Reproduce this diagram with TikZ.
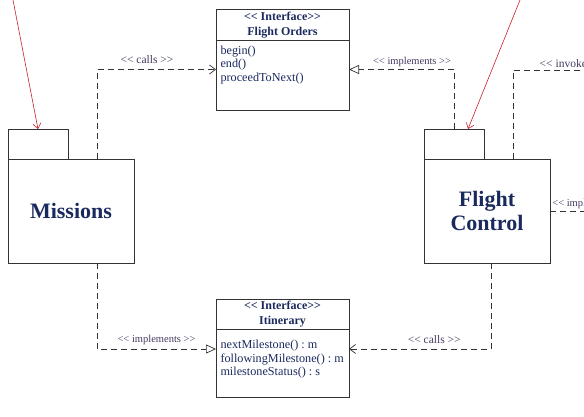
\documentclass[tikz,border=0pt]{standalone}
\usepackage{fontspec}
\setmainfont{Liberation Serif}
\usetikzlibrary{arrows.meta,positioning}

\definecolor{umlnavy}{HTML}{1B2A5E}
\definecolor{umlnote}{HTML}{46395E}
\definecolor{umlline}{HTML}{333333}
\definecolor{umlred}{HTML}{C8202A}

\begin{document}
\begin{tikzpicture}[x=1pt, y=-1pt,
    boxline/.style={draw=umlline, line width=0.8pt, outer sep=0pt},
    pkgbody/.style={boxline, minimum width=126pt, minimum height=104pt, inner sep=0pt,
      font=\fontsize{22}{24}\selectfont\bfseries, text=umlnavy, align=center},
    pkgtab/.style={boxline, minimum width=60pt, minimum height=30pt, inner sep=0pt},
    ifhead/.style={boxline, minimum width=133pt, minimum height=31pt, inner sep=0pt,
      font=\fontsize{12}{15}\selectfont\bfseries, text=umlnavy, align=center},
    ifbody/.style 2 args={boxline, inner xsep=4.5pt, inner ysep=2.5pt,
      font=\fontsize{12.2}{13.5}\selectfont, text=umlnavy,
      execute at begin node={\begin{minipage}[t][#1][t]{124pt}\raggedright\vspace*{#2}},
      execute at end node={\end{minipage}}},
    dep/.style={draw=umlline, line width=0.7pt, dash pattern=on 6pt off 4pt},
    calls/.style={dep, -{Straight Barb[length=6pt,width=9pt]}},
    impl/.style={dep, -{Triangle[open,length=10pt,width=9pt,fill=white]}},
    feed/.style={draw=umlred, line width=0.6pt, -{Straight Barb[length=5pt,width=8pt]}},
    note/.style={font=\fontsize{11.5}{13}\selectfont, text=umlnote, inner sep=2pt},
    notesm/.style={font=\fontsize{10.5}{12}\selectfont, text=umlnote, inner sep=2pt}]

  \useasboundingbox (0,0) rectangle (584,417);
  \clip (0,0) rectangle (584,417);

  % interfaces
  \node[ifhead] (fohead) at (282.5,25) {<{}< Interface>{}>\\Flight Orders};
  \node[ifbody={65pt}{3pt}, below=0pt of fohead] (fobody) {begin()\\end()\\proceedToNext()};

  \node[ifhead, minimum height=30pt] (ithead) at (282.5,314) {<{}< Interface>{}>\\Itinerary};
  \node[ifbody={63pt}{9pt}, below=0pt of ithead] (itbody)
    {nextMilestone()~:~m\\followingMilestone()~:~m\\milestoneStatus()~:~s};

  % packages
  \node[pkgbody] (misbody) at (71,211) {Missions};
  \node[pkgtab, above right=0pt and 0pt of misbody.north west] (mistab) {};

  \node[pkgbody] (fcbody) at (487,211) {Flight\\Control};
  \node[pkgtab, above right=0pt and 0pt of fcbody.north west] (fctab) {};

  % dependencies
  \draw[calls] ([xshift=26pt]misbody.north) |- ([yshift=6pt]fobody.west)
    node[note, above=4pt, pos=0.71] {<{}< calls >{}>};
  \draw[impl] (fctab.north) |- ([yshift=6pt]fobody.east)
    node[notesm, above=0pt, pos=0.7] {<{}< implements >{}>};

  \coordinate (invk) at (600,70);
  \draw[dep] ([xshift=26pt]fcbody.north) |- (invk)
    node[note, anchor=south west, pos=0.64] {<{}< invokes >{}>};

  \coordinate (implx) at (600,211);
  \draw[dep] (fcbody.east) -- (implx)
    node[notesm, anchor=south west, pos=0] {<{}< implements >{}>};

  \draw[impl] ([xshift=26pt]misbody.south) |- ([yshift=14pt]itbody.west)
    node[notesm, above=2pt, pos=0.75] {<{}< implements >{}>};
  \draw[calls] ([xshift=4pt]fcbody.south) |- ([yshift=14pt]itbody.east)
    node[note, above=3pt, pos=0.7] {<{}< calls >{}>};

  % incoming
  \coordinate (misin) at (13,0);
  \coordinate (fcin) at (520,0);
  \draw[feed] (misin) -- (mistab.north);
  \draw[feed] (fcin) -- ([xshift=14pt]fctab.north);
\end{tikzpicture}
\end{document}
